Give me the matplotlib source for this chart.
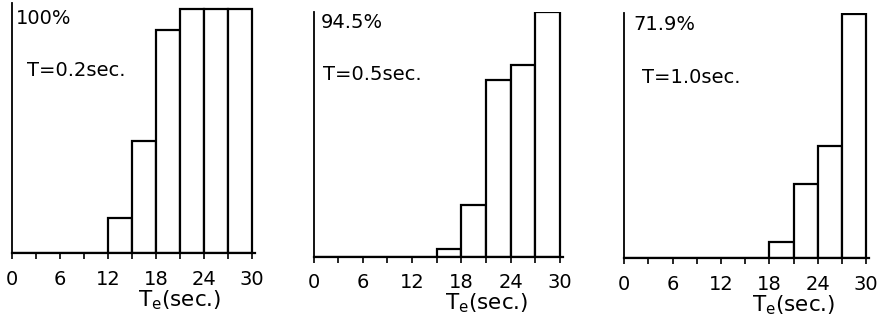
import numpy as np
import matplotlib.pyplot as plt

# bin left edges (sec.) and bar heights (%) for each panel
bin_edges = [0, 3, 6, 9, 12, 15, 18, 21, 24, 27]
bin_width = 3
pct_02 = [0, 0, 0, 0, 14.3, 46.0, 91.4, 100.0, 100.0, 100.0]
pct_05 = [0, 0, 0, 0, 0, 3.0, 19.8, 68.2, 74.0, 94.5]
pct_10 = [0, 0, 0, 0, 0, 0, 4.7, 21.9, 33.1, 71.9]
peak_labels = ["100%", "94.5%", "71.9%"]
period_labels = ["T=0.2sec.", "T=0.5sec.", "T=1.0sec."]
major_ticks = [0, 6, 12, 18, 24, 30]
minor_ticks = [3, 9, 15, 21, 27]

W, H = 880, 326
fig = plt.figure(figsize=(W / 100, H / 100), dpi=100)

# panel geometry in pixels: left, unit px, baseline y, top y, bar-top y, peak text pos, period text pos
panels = [
    dict(data=pct_02, left=12.0, unit=8.0, base=253.0, top=3.0, bartop=9.0,
         peak=(16, 18), per=(27, 71)),
    dict(data=pct_05, left=313.5, unit=8.22, base=256.7, top=12.0, bartop=12.3,
         peak=(321, 23), per=(323, 74)),
    dict(data=pct_10, left=624.3, unit=8.06, base=258.3, top=13.0, bartop=14.3,
         peak=(633, 25), per=(642, 78)),
]

xmax = 30.4
for i, p in enumerate(panels):
    height_px = p["base"] - p["top"]
    ax = fig.add_axes([p["left"] / W, (H - p["base"]) / H,
                       xmax * p["unit"] / W, height_px / H])
    vals = p["data"]
    ymax = max(vals) * height_px / (p["base"] - p["bartop"])
    ax.bar(bin_edges, vals, width=bin_width, align="edge",
           facecolor="white", edgecolor="black", linewidth=1.6)
    ax.set_xlim(0, xmax)
    ax.set_ylim(0, ymax)
    for s in ["top", "right"]:
        ax.spines[s].set_visible(False)
    ax.spines["left"].set_linewidth(1.3)
    ax.spines["bottom"].set_linewidth(1.6)
    ax.set_yticks([])
    ax.set_xticks(major_ticks)
    ax.set_xticks(minor_ticks, minor=True)
    ax.tick_params(axis="x", which="both", direction="out", length=4,
                   width=1.2, labelsize=14, pad=8)
    # x label placed right of centre, as in the original
    ax.text(21, -0.19, r"T$_\mathrm{e}$(sec.)",
            transform=ax.get_xaxis_transform(), ha="center", va="center",
            fontsize=15.5)

    fig.text(p["peak"][0] / W, 1 - p["peak"][1] / H, peak_labels[i],
             fontsize=14, va="center", ha="left")
    fig.text(p["per"][0] / W, 1 - p["per"][1] / H, period_labels[i],
             fontsize=14, va="center", ha="left")

fig.savefig("out.png", dpi=100)
